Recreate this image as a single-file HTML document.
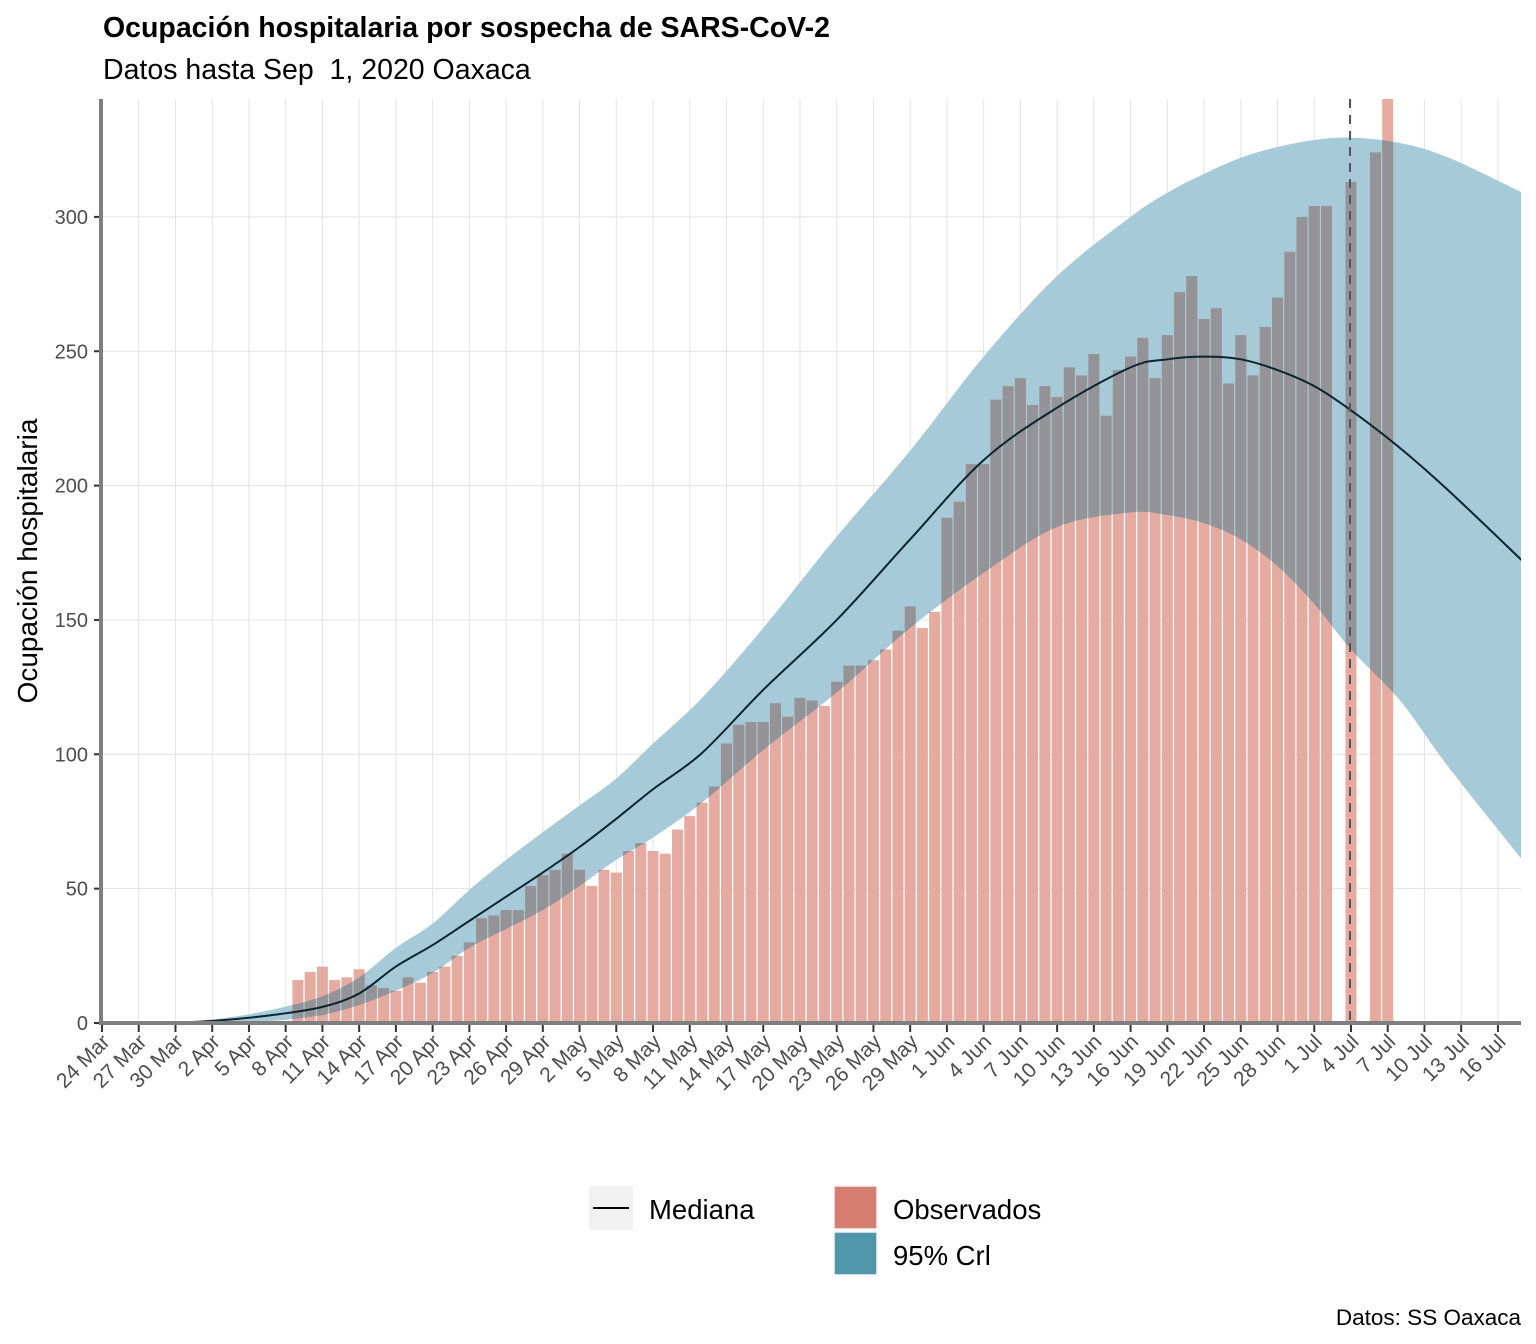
<!DOCTYPE html>
<html><head><meta charset="utf-8"><style>
html,body{margin:0;padding:0;background:#fff;}
svg{display:block;font-family:"Liberation Sans",Arial,sans-serif;}
</style></head><body>
<svg id="chart" width="1536" height="1344" viewBox="0 0 1536 1344">
<text x="103" y="37" font-size="28.5" font-weight="bold" fill="#000">Ocupación hospitalaria por sospecha de SARS-CoV-2</text>
<text x="103" y="79" font-size="28.5" fill="#000" xml:space="preserve">Datos hasta Sep&#160; 1, 2020 Oaxaca</text>
<text transform="translate(37,561) rotate(-90)" text-anchor="middle" font-size="28" fill="#000">Ocupación hospitalaria</text>
<text x="1521" y="1325" text-anchor="end" font-size="22.5" fill="#000">Datos: SS Oaxaca</text>
<defs><clipPath id="plotclip"><rect x="102" y="99" width="1419" height="924"/></clipPath><clipPath id="ribclip"><path id="ribclippath" d=""/></clipPath></defs>
<g id="grid"></g>
<g id="ribbon" clip-path="url(#plotclip)"></g>
<g id="bars" clip-path="url(#plotclip)"></g>
<g clip-path="url(#plotclip)"><g id="barsover" clip-path="url(#ribclip)"></g></g>
<g id="median" clip-path="url(#plotclip)"></g>
<line x1="1350" y1="99" x2="1350" y2="1023" stroke="#555" stroke-width="2" stroke-dasharray="9,7"/>
<g id="axes"></g>
<g>
<rect x="589" y="1186" width="44" height="44" fill="#f2f2f2"/>
<line x1="593" y1="1208" x2="629" y2="1208" stroke="#000" stroke-width="2"/>
<text x="649" y="1219" font-size="27.5" fill="#000">Mediana</text>
<rect x="834" y="1186" width="43" height="43" fill="#d57d6e" stroke="#f4f4f4" stroke-width="1.5"/>
<text x="893" y="1219" font-size="27.5" fill="#000">Observados</text>
<rect x="834" y="1232" width="43" height="43" fill="#5096ab" stroke="#f4f4f4" stroke-width="1.5"/>
<text x="893" y="1265" font-size="27.5" fill="#000">95% Crl</text>
</g>
</svg>
<script>
// day offsets from 24 Mar
const barDays = [16,17,18,19,20,21,22,23,24,25,26,27,28,29,30,31,32,33,34,35,36,37,38,39,40,41,42,43,44,45,46,47,48,49,50,51,52,53,54,55,56,57,58,59,60,61,62,63,64,65,66,67,68,69,70,71,72,73,74,75,76,77,78,79,80,81,82,83,84,85,86,87,88,89,90,91,92,93,94,95,96,97,98,99,100,102,104,105];
const barValues = [16,19,21,16,17,20,14,13,12,17,15,19,21,25,30,39,40,42,42,51,55,57,63,57,51,57,56,64,67,64,63,72,77,82,88,104,111,112,112,119,114,121,120,118,127,133,133,135,139,146,155,147,153,188,194,208,208,232,237,240,230,237,233,244,241,249,226,243,248,255,240,256,272,278,262,266,238,256,241,259,270,287,300,304,304,313,324,360];
const curveDays = [6,8,11,14.5,18,21,24,27,30,33,36,39,42,45,49,54,60,66,72,78,84,87,90,93,96,99,102,106,110,116];
const medianValues = [0,0.5,1.5,3.3,6,11,21,29,38,47,56,65.5,76,87,100.5,124,150,180,209.5,229,244,247,248,247,243,237,228,214,198,172];
const upperValues = [0,0.8,2.5,5.6,10,17,28,37,49.5,60.7,71,81,91,104,121,147,181,213,248,278,300,309,316,322,326,328.6,329.5,327.5,322,309];
const lowerValues = [0,0.3,0.6,1,3,6.7,12,18.6,28,35,42,51,60.7,69,82,101.6,123,147,167.5,184.6,190,189,186,180,170,156,139,120,95,60.7];
const yTicks = [0,50,100,150,200,250,300];
const xTickLabels = ["24 Mar","27 Mar","30 Mar","2 Apr","5 Apr","8 Apr","11 Apr","14 Apr","17 Apr","20 Apr","23 Apr","26 Apr","29 Apr","2 May","5 May","8 May","11 May","14 May","17 May","20 May","23 May","26 May","29 May","1 Jun","4 Jun","7 Jun","10 Jun","13 Jun","16 Jun","19 Jun","22 Jun","25 Jun","28 Jun","1 Jul","4 Jul","7 Jul","10 Jul","13 Jul","16 Jul"];

const NS="http://www.w3.org/2000/svg";
const X0=102, PXD=12.245, Y0=1023, PXV=2.687;
const xs=d=>X0+d*PXD, ys=v=>Y0-v*PXV;
function mk(tag,attrs,parent){const e=document.createElementNS(NS,tag);for(const k in attrs)e.setAttribute(k,attrs[k]);parent.appendChild(e);return e;}
const grid=document.getElementById('grid'), axes=document.getElementById('axes');
yTicks.forEach(v=>{
  const l=mk('line',{x1:102,x2:1521,y1:ys(v),y2:ys(v),stroke:'#e3e3e3','stroke-width':1},grid);
  
  
  const t=mk('text',{x:88,y:ys(v)+7,'text-anchor':'end','font-size':20,fill:'#4d4d4d'},axes);
  t.textContent=v;
  
  
  const tk=mk('line',{x1:94,x2:101,y1:ys(v),y2:ys(v),stroke:'#333','stroke-width':2},axes);
  
  
});
xTickLabels.forEach((lab,i)=>{
  const x=xs(i*3);
  const g=mk('line',{x1:x,x2:x,y1:99,y2:1023,stroke:'#e3e3e3','stroke-width':1},grid);
  
  
  const tk=mk('line',{x1:x,x2:x,y1:1025,y2:1032,stroke:'#333','stroke-width':2},axes);
  
  
  const t=mk('text',{transform:`translate(${x+9},${1043}) rotate(-45)`,'text-anchor':'end','font-size':21,fill:'#4d4d4d'},axes);
  t.textContent=lab;
  
  
});
const al=mk('line',{x1:101,x2:101,y1:99,y2:1025,stroke:'#7f7f7f','stroke-width':4},axes);


const ab=mk('line',{x1:99,x2:1521,y1:1023,y2:1023,stroke:'#7f7f7f','stroke-width':4},axes);



function smooth(pts){let d=`M${pts[0][0]},${pts[0][1]}`;for(let i=0;i<pts.length-1;i++){const p0=pts[Math.max(0,i-1)],p1=pts[i],p2=pts[i+1],p3=pts[Math.min(pts.length-1,i+2)];
 d+=`C${p1[0]+(p2[0]-p0[0])/6},${p1[1]+(p2[1]-p0[1])/6} ${p2[0]-(p3[0]-p1[0])/6},${p2[1]-(p3[1]-p1[1])/6} ${p2[0]},${p2[1]}`;}return d;}
const up=curveDays.map((d,i)=>[xs(d),ys(upperValues[i])]);
const lo=curveDays.map((d,i)=>[xs(d),ys(lowerValues[i])]).reverse();
const ribD=smooth(up)+smooth(lo).replace('M','L')+'Z';
document.getElementById('ribclippath').setAttribute('d',ribD);
const rib=mk('path',{d:ribD,fill:'#a6cad7'},document.getElementById('ribbon'));



const bars=document.getElementById('bars'), over=document.getElementById('barsover');
barDays.forEach((d,i)=>{
  const x=xs(d)-5.5, y=ys(barValues[i]), h=Y0-y;
  const b=mk('rect',{x:x,y:y,width:11,height:h,fill:'#e5aba0'},bars);
  
  
  const o=mk('rect',{x:x,y:y,width:11,height:h,fill:'#949397'},over);
  
  
});
const med=mk('path',{d:smooth(curveDays.map((d,i)=>[xs(d),ys(medianValues[i])])),fill:'none',stroke:'#0c2430','stroke-width':2},document.getElementById('median'));


</script>
</body></html>
